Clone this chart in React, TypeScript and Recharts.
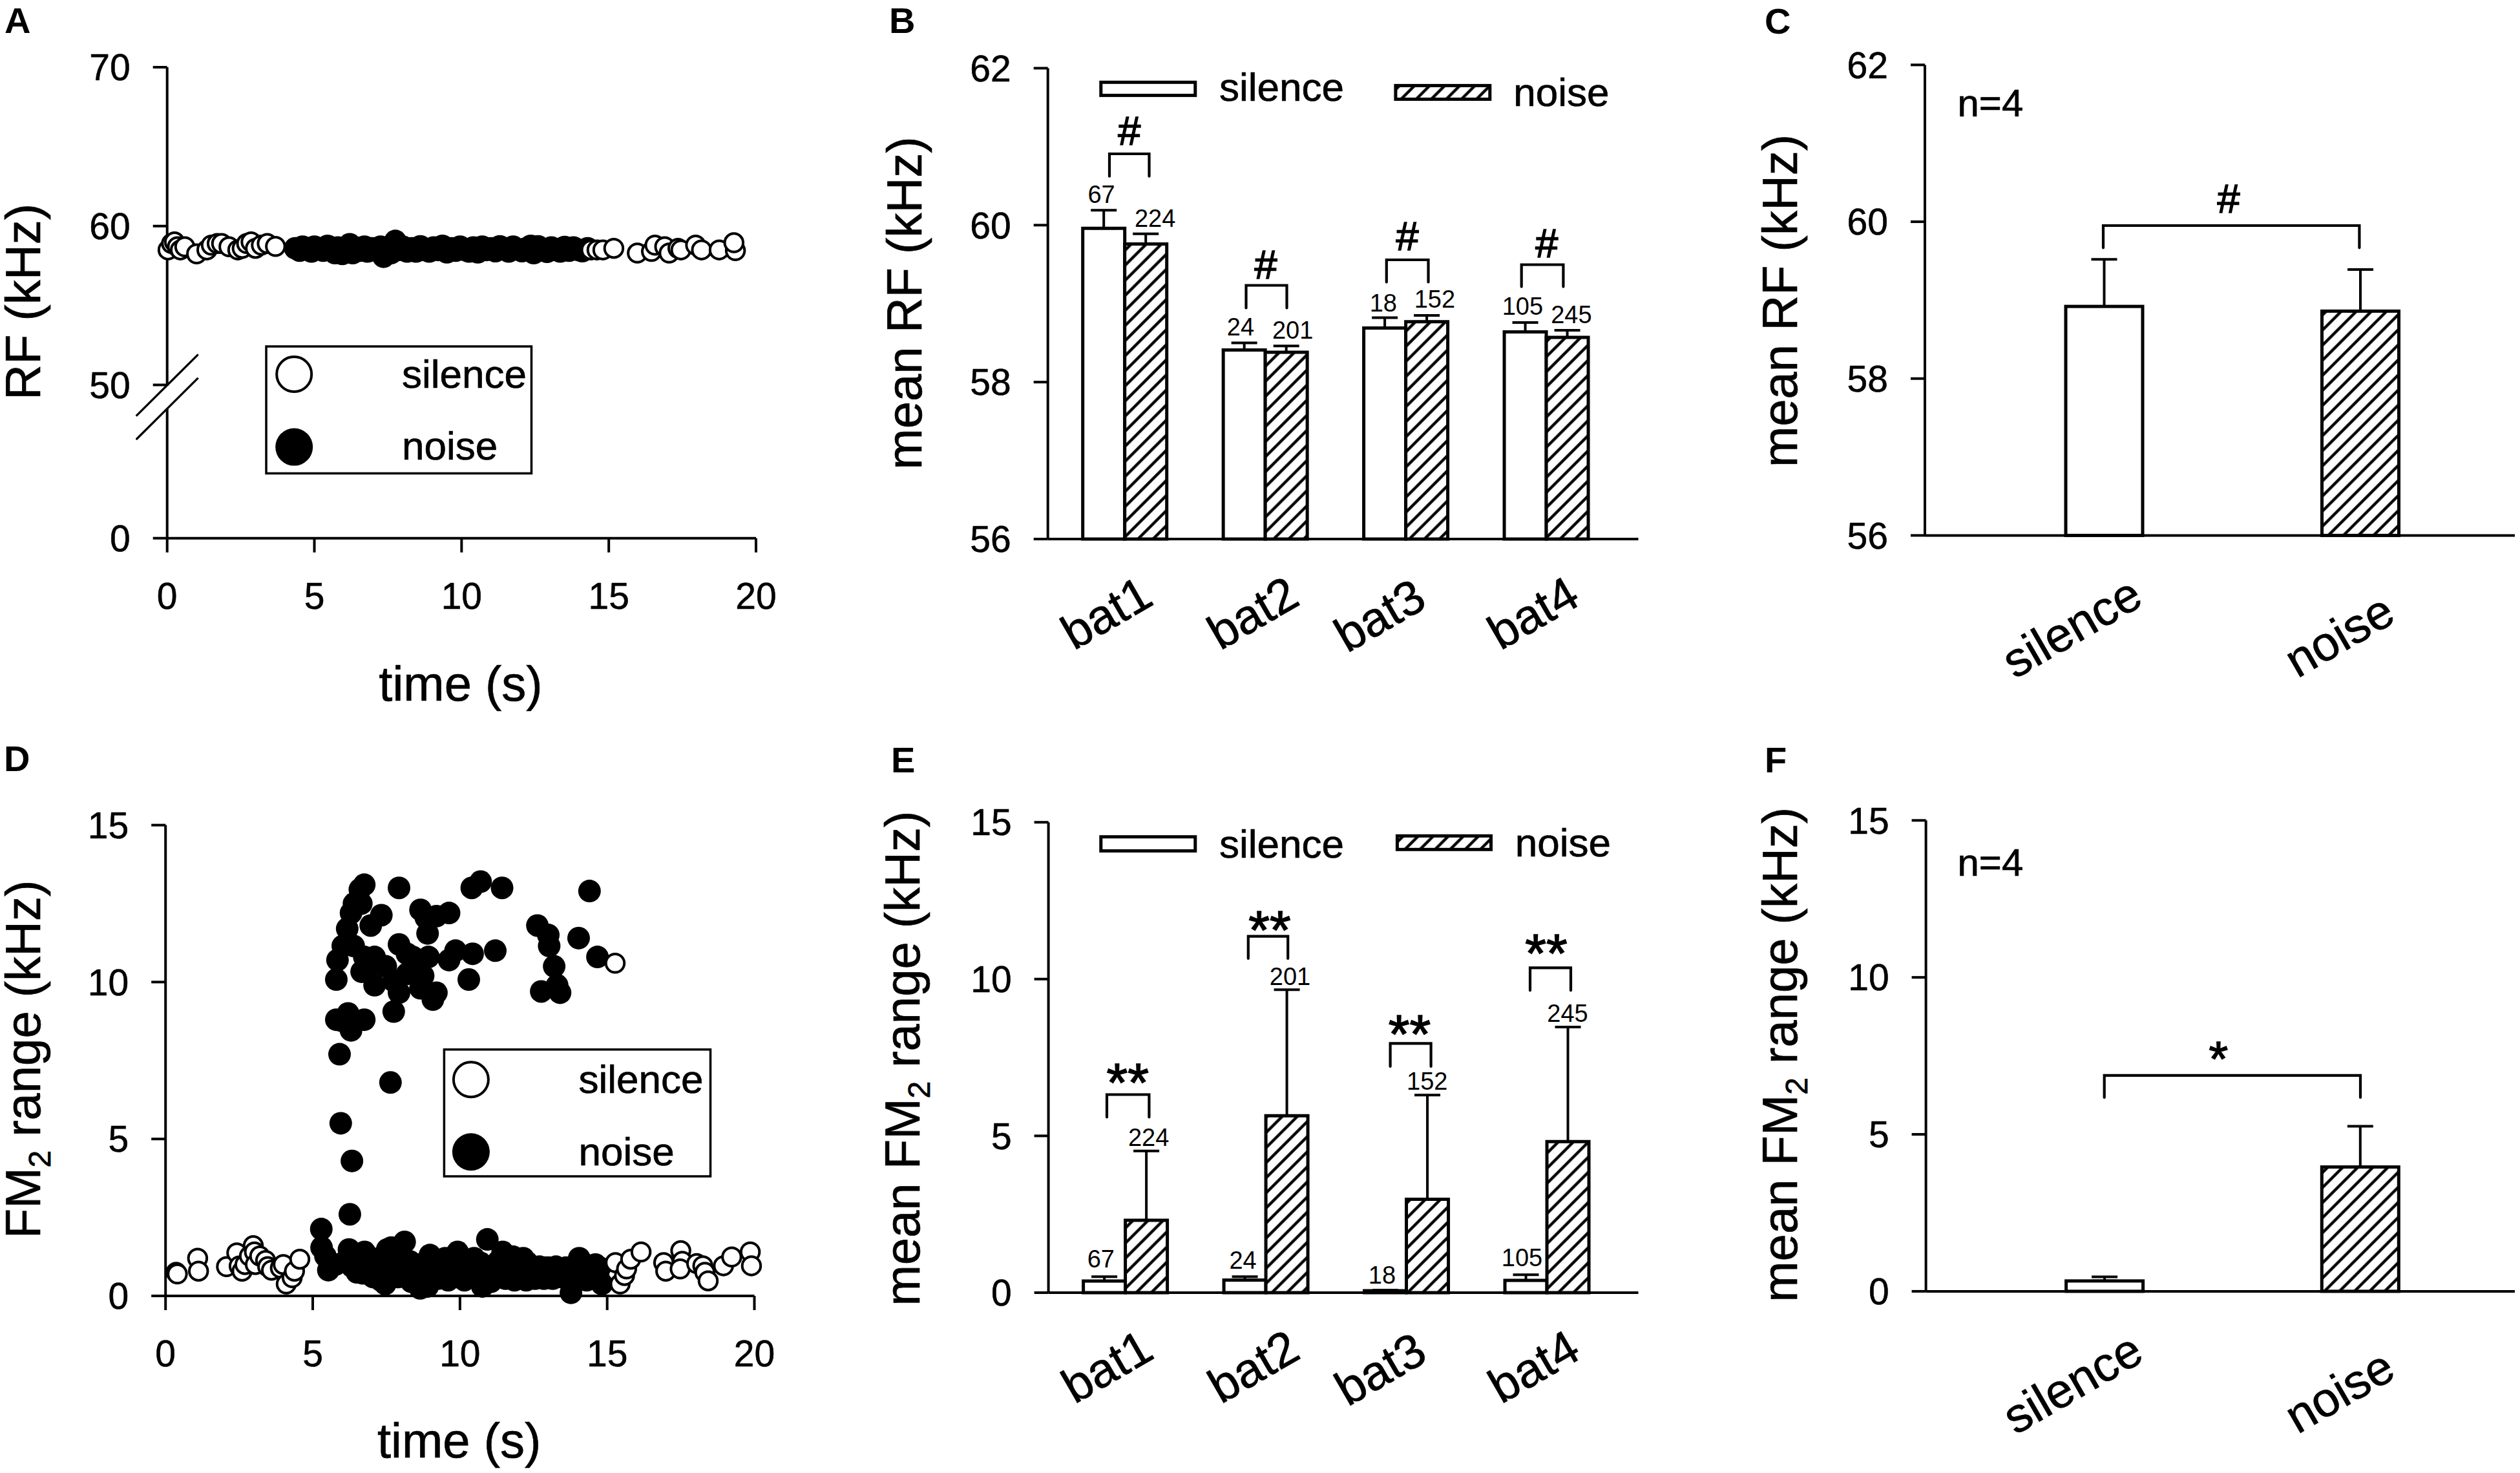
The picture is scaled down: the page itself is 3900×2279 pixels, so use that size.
import React from "react";
import { Bar, BarChart, ErrorBar, Scatter, ScatterChart, XAxis, YAxis } from "recharts";

const FONT = "'Liberation Sans', Arial, sans-serif";

// ---- data ----
const BATS = ["bat1", "bat2", "bat3", "bat4"];
const CONDITIONS = ["silence", "noise"];
const COUNTS_SILENCE = [67, 24, 18, 105];
const COUNTS_NOISE = [224, 201, 152, 245];

const RF_SILENCE = [59.96, 58.41, 58.69, 58.64];
const RF_SILENCE_ERR = [0.23, 0.09, 0.13, 0.12];
const RF_NOISE = [59.76, 58.38, 58.77, 58.57];
const RF_NOISE_ERR = [0.13, 0.08, 0.08, 0.09];
const RF_MEAN = [58.92, 58.86];
const RF_MEAN_ERR = [0.6, 0.53];

const FM_SILENCE = [0.37, 0.4, 0.06, 0.39];
const FM_SILENCE_ERR = [0.14, 0.11, 0.02, 0.18];
const FM_NOISE = [2.31, 5.64, 2.98, 4.82];
const FM_NOISE_ERR = [2.21, 4.02, 3.32, 3.65];
const FM_MEAN = [0.33, 3.96];
const FM_MEAN_ERR = [0.13, 1.3];

const RF_BEFORE: number[][] = [
  [0.03, 58.5], [0.15, 58.9], [0.25, 59.0], [0.35, 58.7], [0.45, 58.5], [0.6, 58.7], [1.0, 58.25],
  [1.35, 58.5], [1.5, 58.8], [1.7, 58.9], [1.85, 58.9], [2.1, 58.7], [2.4, 58.5], [2.55, 58.6],
  [2.7, 58.9], [2.85, 59.0], [3.0, 58.6], [3.2, 58.8], [3.4, 58.9], [3.68, 58.72],
];
const RF_NOISE_POINTS: number[][] = [
  [4.35, 58.6], [4.5, 58.45], [4.6, 58.7], [4.75, 58.55], [4.9, 58.4], [5.0, 58.7], [5.15, 58.6],
  [5.3, 58.45], [5.45, 58.75], [5.55, 58.5], [5.7, 58.3], [5.8, 58.65], [5.95, 58.25], [6.05, 58.55],
  [6.2, 58.85], [6.3, 58.3], [6.4, 58.65], [6.55, 58.45], [6.7, 58.7], [6.8, 58.4], [6.95, 58.6],
  [7.1, 58.45], [7.25, 58.7], [7.35, 58.07], [7.45, 58.5], [7.6, 58.3], [7.75, 59.06], [7.85, 58.5],
  [8.0, 58.7], [8.15, 58.4], [8.3, 58.6], [8.45, 58.4], [8.6, 58.72], [8.75, 58.5], [8.9, 58.4],
  [9.05, 58.65], [9.2, 58.5], [9.35, 58.75], [9.5, 58.35], [9.65, 58.6], [9.8, 58.45], [9.95, 58.7],
  [10.1, 58.5], [10.25, 58.4], [10.4, 58.65], [10.55, 58.35], [10.7, 58.7], [10.85, 58.5], [11.0, 58.6],
  [11.15, 58.42], [11.3, 58.72], [11.45, 58.55], [11.6, 58.4], [11.75, 58.7], [11.9, 58.55], [12.05, 58.42],
  [12.2, 58.6], [12.35, 58.75], [12.45, 58.3], [12.6, 58.72], [12.75, 58.5], [12.9, 58.38], [13.05, 58.65],
  [13.2, 58.5], [13.35, 58.4], [13.5, 58.68], [13.65, 58.45], [13.8, 58.65], [13.95, 58.5], [14.1, 58.42],
  [14.28, 58.6],
];
const RF_AFTER: number[][] = [
  [14.4, 58.5], [14.6, 58.5], [14.8, 58.5], [15.17, 58.6], [15.97, 58.3], [16.45, 58.4], [16.57, 58.8],
  [16.9, 58.7], [17.05, 58.3], [17.35, 58.6], [17.45, 58.5], [17.95, 58.8], [18.15, 58.5], [18.75, 58.5],
  [19.3, 58.45], [19.25, 58.95],
];

const FM_BEFORE: number[][] = [
  [0.36, 0.75], [0.4, 0.7], [1.09, 1.2], [1.12, 0.79], [2.07, 0.93], [2.42, 1.37], [2.5, 0.95], [2.6, 0.79],
  [2.7, 1.0], [2.85, 1.27], [2.98, 1.6], [3.02, 1.4], [3.05, 1.0], [3.2, 1.27], [3.4, 1.13], [3.47, 0.93],
  [3.6, 0.82], [3.9, 0.89], [4.0, 1.0], [4.1, 0.38], [4.3, 0.58], [4.38, 0.79], [4.56, 1.17],
];
const FM_NOISE_POINTS: number[][] = [
  [5.3, 1.54], [5.43, 1.27], [5.53, 0.82], [5.78, 1.0], [6.23, 1.48], [6.34, 0.93], [6.5, 0.75], [6.76, 1.4],
  [6.7, 0.72], [6.9, 0.95], [7.05, 0.6], [7.2, 0.85], [7.3, 0.5], [7.46, 0.38], [7.53, 1.48], [7.67, 1.54],
  [7.75, 0.95], [7.9, 0.6], [8.12, 1.72], [8.05, 1.0], [8.2, 0.7], [8.35, 0.45], [8.5, 0.95], [8.65, 0.24],
  [8.75, 0.7], [8.98, 1.3], [8.9, 0.3], [9.1, 0.9], [9.25, 0.55], [9.5, 1.2], [9.4, 0.8], [9.6, 0.5],
  [9.75, 0.95], [9.92, 1.4], [10.0, 0.7], [10.15, 0.5], [10.3, 0.95], [10.48, 1.2], [10.6, 0.6], [10.76, 0.3],
  [10.93, 1.8], [10.9, 0.8], [11.05, 0.45], [11.2, 1.0], [11.45, 1.4], [11.4, 0.6], [11.6, 0.85], [11.8, 1.25],
  [11.85, 0.5], [12.0, 0.9], [12.15, 1.2], [12.25, 0.5], [12.4, 0.85], [12.55, 0.55], [12.7, 0.93], [12.85, 0.55],
  [13.0, 0.9], [13.26, 0.93], [13.15, 0.55], [13.45, 0.6], [13.6, 0.9], [13.77, 0.1], [13.85, 0.65], [14.05, 1.2],
  [14.1, 0.7], [14.3, 0.5], [14.45, 0.9], [14.6, 1.0], [14.7, 0.6], [14.82, 0.38],
  [6.1, 1.1], [6.6, 1.15], [7.0, 1.2], [7.35, 1.05], [7.6, 0.7], [7.95, 1.25], [8.3, 1.1], [8.45, 0.7],
  [8.8, 1.05], [9.0, 0.6], [9.3, 1.05], [9.7, 0.7], [10.05, 1.1], [10.2, 0.75], [10.5, 0.85], [10.7, 1.05],
  [11.1, 0.7], [11.3, 1.1], [11.55, 0.55], [11.7, 1.05], [12.1, 0.7], [12.3, 1.05], [12.6, 0.75], [12.9, 0.9],
  [13.1, 0.7], [13.35, 0.75], [13.55, 0.65], [13.7, 0.8], [13.95, 0.95], [14.25, 1.0], [14.4, 0.65], [14.75, 0.9],
  [5.29, 2.13], [6.26, 2.6], [6.33, 4.3], [5.95, 5.5], [7.64, 6.8], [5.91, 7.7], [6.3, 8.46], [5.8, 8.8],
  [6.0, 8.76], [6.75, 8.8], [6.2, 9.0], [7.75, 9.06], [9.08, 9.44], [7.93, 9.66], [9.2, 9.66], [13.4, 9.66],
  [12.76, 9.7], [8.66, 9.8], [7.1, 9.9], [13.3, 9.9], [7.75, 10.03], [5.8, 10.08], [10.3, 10.08], [8.75, 10.2],
  [8.2, 10.26], [6.66, 10.33], [6.93, 10.5], [7.48, 10.5], [13.2, 10.5], [5.84, 10.7], [9.63, 10.7], [6.75, 10.8],
  [7.1, 10.8], [8.4, 10.8], [8.93, 10.8], [14.67, 10.8], [8.2, 10.9], [10.43, 10.9], [9.85, 11.0], [11.2, 11.0],
  [6.02, 11.15], [6.39, 11.15], [13.03, 11.15], [7.93, 11.2], [14.03, 11.4], [13.0, 11.5], [8.9, 11.55], [6.17, 11.7],
  [6.97, 11.8], [12.63, 11.8], [8.84, 12.05], [9.2, 12.1], [7.33, 12.13], [6.3, 12.2], [9.63, 12.2], [8.66, 12.3],
  [6.4, 12.5], [6.65, 12.5], [14.4, 12.9], [6.6, 12.95], [7.93, 13.0], [10.4, 13.0], [11.43, 13.0], [6.75, 13.1],
  [10.7, 13.2],
];
const FM_AFTER: number[][] = [
  [15.27, 10.6], [15.28, 1.06], [15.44, 0.38], [15.59, 0.65], [15.66, 0.86], [15.8, 1.17], [16.15, 1.4],
  [16.92, 1.06], [16.99, 0.79], [17.5, 1.44], [17.55, 1.1], [17.48, 0.86], [18.04, 1.03], [18.25, 0.96],
  [18.32, 0.75], [18.43, 0.48], [18.95, 0.96], [19.23, 1.24], [19.86, 1.4], [19.9, 0.96],
];

// the 0 at the foot of panel A sits below an axis break, on the scale of the upper part
const RF_AXIS_FOOT = 40.35;
const RF_TICKS = [RF_AXIS_FOOT, 50, 60, 70];
const TIME_TICKS = [0, 5, 10, 15, 20];
const RF_BAR_TICKS = [56, 58, 60, 62];
const FM_TICKS = [0, 5, 10, 15];

const toPoints = (rows: number[][]) => rows.map(([t, v]) => ({ t, v }));
const groupTable = (s: number[], sErr: number[], n: number[], nErr: number[]) =>
  BATS.map((name, i) => ({
    name,
    silence: s[i],
    silenceErr: [0, sErr[i]],
    noise: n[i],
    noiseErr: [0, nErr[i]],
  }));
const pairTable = (v: number[], err: number[]) =>
  CONDITIONS.map((name, i) => ({ name, value: v[i], err: [0, err[i]] }));

// ---- chart pieces ----
const AXIS_STROKE = { stroke: "#000", strokeWidth: 4 };
const TICK_STYLE = { fontSize: 57, fill: "#000", fontFamily: FONT, stroke: "#000", strokeWidth: 0.6 };
const BAR_STROKE = 5;
const TEXT_WEIGHT = { stroke: "#000", strokeWidth: 0.7 };

function OpenDot(props: any) {
  return <circle cx={props.cx} cy={props.cy} r={14.25} fill="#fff" stroke="#000" strokeWidth={4} />;
}
function FilledDot(props: any) {
  return <circle cx={props.cx} cy={props.cy} r={17.5} fill="#000" />;
}

function SlantTick({ x, y, payload, nudge }: any) {
  const [dx, dy] = nudge[payload.value];
  return (
    <text
      transform={`translate(${x + dx},${y + dy}) rotate(-30)`}
      textAnchor="end"
      fontSize={75}
      fontFamily={FONT}
      fill="#000"
      {...TEXT_WEIGHT}
    >
      {payload.value}
    </text>
  );
}

function cellStyle(x: number, y: number, w: number, h: number): React.CSSProperties {
  return { position: "absolute", left: x, top: y, width: w, height: h };
}

function ScatterPanel({ cell, plot, before, noise, after, yDomain, yTicks, yFormat }: any) {
  const [cx, cy, cw, ch] = cell;
  const [left, right, top, bottom] = plot;
  return (
    <div style={cellStyle(cx, cy, cw, ch)}>
      <ScatterChart
        width={cw}
        height={ch}
        margin={{ left: left - cx - 90, right: cx + cw - right, top: top - cy, bottom: cy + ch - bottom - 100 }}
      >
        <XAxis
          type="number"
          dataKey="t"
          domain={[0, 20]}
          ticks={TIME_TICKS}
          interval={0}
          height={100}
          tickSize={22}
          tickMargin={47}
          axisLine={AXIS_STROKE}
          tickLine={AXIS_STROKE}
          tick={TICK_STYLE}
        />
        <YAxis
          type="number"
          dataKey="v"
          domain={yDomain}
          ticks={yTicks}
          interval={0}
          width={90}
          tickSize={22}
          tickMargin={35}
          tickFormatter={yFormat}
          axisLine={AXIS_STROKE}
          tickLine={AXIS_STROKE}
          tick={TICK_STYLE}
        />
        <Scatter data={toPoints(before)} shape={OpenDot} isAnimationActive={false} />
        <Scatter data={toPoints(noise)} shape={FilledDot} isAnimationActive={false} />
        <Scatter data={toPoints(after)} shape={OpenDot} isAnimationActive={false} />
      </ScatterChart>
    </div>
  );
}

function GroupPanel({ cell, plot, data, yDomain, yTicks, padding, nudge }: any) {
  const [cx, cy, cw, ch] = cell;
  const [left, right, top, bottom] = plot;
  return (
    <div style={cellStyle(cx, cy, cw, ch)}>
      <BarChart
        width={cw}
        height={ch}
        data={data}
        barSize={65}
        barGap={0}
        margin={{ left: left - cx - 90, right: cx + cw - right, top: top - cy, bottom: cy + ch - bottom - 100 }}
      >
        <XAxis
          dataKey="name"
          height={100}
          padding={padding}
          interval={0}
          tickLine={false}
          tickSize={0}
          tickMargin={0}
          axisLine={AXIS_STROKE}
          tick={<SlantTick nudge={nudge} />}
        />
        <YAxis
          domain={yDomain}
          ticks={yTicks}
          interval={0}
          width={90}
          tickSize={22}
          tickMargin={35}
          axisLine={AXIS_STROKE}
          tickLine={AXIS_STROKE}
          tick={TICK_STYLE}
        />
        <Bar dataKey="silence" fill="#fff" stroke="#000" strokeWidth={BAR_STROKE} isAnimationActive={false}>
          <ErrorBar dataKey="silenceErr" width={20} stroke="#000" strokeWidth={4} isAnimationActive={false} />
        </Bar>
        <Bar dataKey="noise" fill="url(#hatch)" stroke="#000" strokeWidth={BAR_STROKE} isAnimationActive={false}>
          <ErrorBar dataKey="noiseErr" width={20} stroke="#000" strokeWidth={4} isAnimationActive={false} />
        </Bar>
      </BarChart>
    </div>
  );
}

function PairPanel({ cell, plot, data, yDomain, yTicks, padding, nudge }: any) {
  const [cx, cy, cw, ch] = cell;
  const [left, right, top, bottom] = plot;
  return (
    <div style={cellStyle(cx, cy, cw, ch)}>
      <BarChart
        width={cw}
        height={ch}
        data={data}
        barSize={119}
        margin={{ left: left - cx - 90, right: cx + cw - right, top: top - cy, bottom: cy + ch - bottom - 100 }}
      >
        <XAxis
          dataKey="name"
          height={100}
          padding={padding}
          interval={0}
          tickLine={false}
          tickSize={0}
          tickMargin={0}
          axisLine={AXIS_STROKE}
          tick={<SlantTick nudge={nudge} />}
        />
        <YAxis
          domain={yDomain}
          ticks={yTicks}
          interval={0}
          width={90}
          tickSize={22}
          tickMargin={35}
          axisLine={AXIS_STROKE}
          tickLine={AXIS_STROKE}
          tick={TICK_STYLE}
        />
        <Bar
          dataKey="value"
          stroke="#000"
          strokeWidth={BAR_STROKE}
          isAnimationActive={false}
          shape={(p: any) => (
            <rect
              x={p.x}
              y={p.y}
              width={p.width}
              height={p.height}
              fill={p.name === "noise" ? "url(#hatch)" : "#fff"}
              stroke="#000"
              strokeWidth={BAR_STROKE}
            />
          )}
        >
          <ErrorBar dataKey="err" width={20} stroke="#000" strokeWidth={4} isAnimationActive={false} />
        </Bar>
      </BarChart>
    </div>
  );
}

// ---- annotations, page pixels ----
const BRACKETS = [
  [1717, 1778.5, 238, 272.7], [1928.5, 1991.5, 441.5, 476.4], [2145.8, 2210.5, 402, 436.4], [2354.7, 2419.4, 409.5, 443.6],
  [3255, 3651.4, 349, 383.3],
  [1713, 1778.4, 1693.5, 1728.4], [1931.8, 1993.2, 1448.7, 1482.9], [2151.6, 2214.6, 1614.4, 1650], [2368, 2431, 1497.4, 1532.3],
  [3256.7, 3653, 1663.8, 1697.9],
];
const SIG_MARKS: [string, number, number, number][] = [
  ["#", 1747.8, 224, 63], ["#", 1959, 430.5, 63], ["#", 2178, 387, 63], ["#", 2393.7, 397.8, 63],
  ["#", 3449, 328.7, 63],
  ["**", 1745.3, 1704, 84], ["**", 1965, 1468, 84], ["**", 2181.4, 1629, 84], ["**", 2392.9, 1504, 84],
  ["*", 3433.3, 1664, 76],
];
const COUNT_POS_RF = [
  [1704.6, 314], [1920, 518.5], [2140.8, 482], [2356.4, 487.3],
  [1787.6, 351], [2000.7, 523.6], [2220.4, 476.4], [2431.9, 500.4],
];
const COUNT_POS_FM = [
  [1703.8, 1960.9], [1923.6, 1963], [2139, 1986.3], [2355.5, 1959.4],
  [1777.6, 1773.4], [1996.5, 1523.6], [2208.8, 1686.3], [2426, 1581],
];
const LETTERS: [string, number, number][] = [
  ["A", 7, 51], ["B", 1376, 51], ["C", 2731, 52], ["D", 6, 1193], ["E", 1379, 1194.5], ["F", 2731, 1194.5],
];

function YTitle({ x, y, children }: any) {
  return (
    <text transform={`translate(${x},${y}) rotate(-90)`} textAnchor="middle" fontSize={76} fontFamily={FONT} {...TEXT_WEIGHT}>
      {children}
    </text>
  );
}

function Fm2({ prefix }: { prefix?: string }) {
  return (
    <>
      {prefix}FM
      <tspan fontSize={48} dy={16}>2</tspan>
      <tspan dy={-16}> range (kHz)</tspan>
    </>
  );
}

function DotLegend({ box, dotX, silenceY, noiseY, textX, silenceBase, noiseBase }: any) {
  const [x1, x2, y1, y2] = box;
  return (
    <g fontFamily={FONT} fontSize={62}>
      <rect x={x1} y={y1} width={x2 - x1} height={y2 - y1} fill="#fff" stroke="#000" strokeWidth={3.5} />
      <circle cx={dotX} cy={silenceY} r={27} fill="#fff" stroke="#000" strokeWidth={4} />
      <circle cx={dotX} cy={noiseY} r={29} fill="#000" />
      <text x={textX} y={silenceBase} {...TEXT_WEIGHT}>silence</text>
      <text x={textX} y={noiseBase} {...TEXT_WEIGHT}>noise</text>
    </g>
  );
}

function BarLegend({ sil, noi, silText, noiText }: any) {
  return (
    <g fontFamily={FONT} fontSize={62}>
      <rect x={sil[0]} y={sil[2]} width={sil[1] - sil[0]} height={sil[3] - sil[2]} fill="#fff" stroke="#000" strokeWidth={BAR_STROKE} />
      <rect x={noi[0]} y={noi[2]} width={noi[1] - noi[0]} height={noi[3] - noi[2]} fill="url(#hatch)" stroke="#000" strokeWidth={BAR_STROKE} />
      <text x={silText[0]} y={silText[1]} {...TEXT_WEIGHT}>silence</text>
      <text x={noiText[0]} y={noiText[1]} {...TEXT_WEIGHT}>noise</text>
    </g>
  );
}

function Overlay() {
  const counts = [...COUNTS_SILENCE, ...COUNTS_NOISE];
  return (
    <svg width={3900} height={2279} style={{ position: "absolute", left: 0, top: 0, pointerEvents: "none" }}>
      <defs>
        <pattern id="hatch" width={16.5} height={16.5} patternUnits="userSpaceOnUse" patternTransform="rotate(45)">
          <rect width={16.5} height={16.5} fill="#fff" />
          <line x1={8.25} y1={0} x2={8.25} y2={16.5} stroke="#000" strokeWidth={4.4} />
        </pattern>
      </defs>

      {LETTERS.map(([t, x, y]) => (
        <text key={t} x={x} y={y} fontSize={56} fontWeight="bold" fontFamily={FONT}>{t}</text>
      ))}

      <YTitle x={62} y={467}>RF (kHz)</YTitle>
      <YTitle x={1426} y={469}>mean RF (kHz)</YTitle>
      <YTitle x={2781} y={465.5}>mean RF (kHz)</YTitle>
      <YTitle x={62} y={1639}><Fm2 /></YTitle>
      <YTitle x={1423} y={1637.6}><Fm2 prefix="mean " /></YTitle>
      <YTitle x={2781} y={1631.8}><Fm2 prefix="mean " /></YTitle>

      <text x={713} y={1083.6} textAnchor="middle" fontSize={76} fontFamily={FONT} {...TEXT_WEIGHT}>time (s)</text>
      <text x={710.6} y={2255} textAnchor="middle" fontSize={76} fontFamily={FONT} {...TEXT_WEIGHT}>time (s)</text>

      {/* axis break of panel A */}
      <line x1={258.7} y1={597} x2={258.7} y2={632} stroke="#fff" strokeWidth={6} />
      <line x1={211.7} y1={642.7} x2={305.7} y2={549.3} stroke="#000" strokeWidth={3.3} strokeLinecap="round" />
      <line x1={211.7} y1={679} x2={305.7} y2={585.7} stroke="#000" strokeWidth={3.3} strokeLinecap="round" />

      <DotLegend box={[412, 822.5, 536, 732.4]} dotX={455.2} silenceY={579} noiseY={691.6} textX={622} silenceBase={600} noiseBase={711.3} />
      <DotLegend box={[687.4, 1099.5, 1623.8, 1820]} dotX={728.9} silenceY={1670.3} noiseY={1782.2} textX={895.5} silenceBase={1690.6} noiseBase={1802.5} />

      <BarLegend sil={[1703.8, 1849.8, 127.3, 147.6]} noi={[2159.9, 2305.8, 132.4, 153.5]} silText={[1887, 156.4]} noiText={[2342.3, 163.6]} />
      <BarLegend sil={[1703.8, 1849.8, 1294.7, 1316.5]} noi={[2162.4, 2307.5, 1293.3, 1314.3]} silText={[1887, 1327.4]} noiText={[2344.8, 1325.2]} />

      {BRACKETS.map(([x1, x2, top, bot]) => (
        <path
          key={`${x1}-${top}`}
          d={`M${x1} ${bot}V${top}H${x2}V${bot}`}
          fill="none"
          stroke="#000"
          strokeWidth={4.2}
          strokeLinecap="round"
        />
      ))}
      {SIG_MARKS.map(([t, x, y, size]) => (
        <text key={`${x}-${y}`} x={x} y={y} fontSize={size} textAnchor="middle" fontFamily={FONT} stroke="#000" strokeWidth={1.6}>{t}</text>
      ))}
      {counts.map((c, i) => (
        <text key={`rf${i}`} x={COUNT_POS_RF[i][0]} y={COUNT_POS_RF[i][1]} fontSize={38} textAnchor="middle" fontFamily={FONT}>{c}</text>
      ))}
      {counts.map((c, i) => (
        <text key={`fm${i}`} x={COUNT_POS_FM[i][0]} y={COUNT_POS_FM[i][1]} fontSize={38} textAnchor="middle" fontFamily={FONT}>{c}</text>
      ))}
      <text x={3029.5} y={180.4} fontSize={60} fontFamily={FONT} {...TEXT_WEIGHT}>n=4</text>
      <text x={3029.5} y={1355} fontSize={60} fontFamily={FONT} {...TEXT_WEIGHT}>n=4</text>
    </svg>
  );
}

const BAT_NUDGE = { bat1: [48, 100], bat2: [57, 100], bat3: [36, 104], bat4: [56, 100] };
const PAIR_NUDGE = { silence: [64, 106], noise: [58, 132] };

export default function App() {
  return (
    <div style={{ position: "absolute", left: 0, top: 0, width: 3900, height: 2279, background: "#fff", overflow: "hidden" }}>
      <ScatterPanel
        cell={[0, 0, 1300, 1140]}
        plot={[258.7, 1170, 104, 832.7]}
        before={RF_BEFORE}
        noise={RF_NOISE_POINTS}
        after={RF_AFTER}
        yDomain={[RF_AXIS_FOOT, 70]}
        yTicks={RF_TICKS}
        yFormat={(v: number) => (v === RF_AXIS_FOOT ? "0" : String(v))}
      />
      <GroupPanel
        cell={[1300, 0, 1300, 1140]}
        plot={[1621.7, 2535.5, 105.5, 834]}
        data={groupTable(RF_SILENCE, RF_SILENCE_ERR, RF_NOISE, RF_NOISE_ERR)}
        yDomain={[56, 62]}
        yTicks={RF_BAR_TICKS}
        padding={{ left: 10, right: 34 }}
        nudge={BAT_NUDGE}
      />
      <PairPanel
        cell={[2600, 0, 1300, 1140]}
        plot={[2979, 3892, 100.4, 828.4]}
        data={pairTable(RF_MEAN, RF_MEAN_ERR)}
        yDomain={[56, 62]}
        yTicks={RF_BAR_TICKS}
        padding={{ left: 79, right: 41 }}
        nudge={PAIR_NUDGE}
      />
      <ScatterPanel
        cell={[0, 1140, 1300, 1139]}
        plot={[256.2, 1167.5, 1276.6, 2005]}
        before={FM_BEFORE}
        noise={FM_NOISE_POINTS}
        after={FM_AFTER}
        yDomain={[0, 15]}
        yTicks={FM_TICKS}
      />
      <GroupPanel
        cell={[1300, 1140, 1300, 1139]}
        plot={[1622.6, 2535.5, 1272.2, 2000]}
        data={groupTable(FM_SILENCE, FM_SILENCE_ERR, FM_NOISE, FM_NOISE_ERR)}
        yDomain={[0, 15]}
        yTicks={FM_TICKS}
        padding={{ left: 10, right: 33 }}
        nudge={BAT_NUDGE}
      />
      <PairPanel
        cell={[2600, 1140, 1300, 1139]}
        plot={[2980.6, 3892, 1269.3, 1997.9]}
        data={pairTable(FM_MEAN, FM_MEAN_ERR)}
        yDomain={[0, 15]}
        yTicks={FM_TICKS}
        padding={{ left: 79, right: 41 }}
        nudge={PAIR_NUDGE}
      />
      <Overlay />
    </div>
  );
}
